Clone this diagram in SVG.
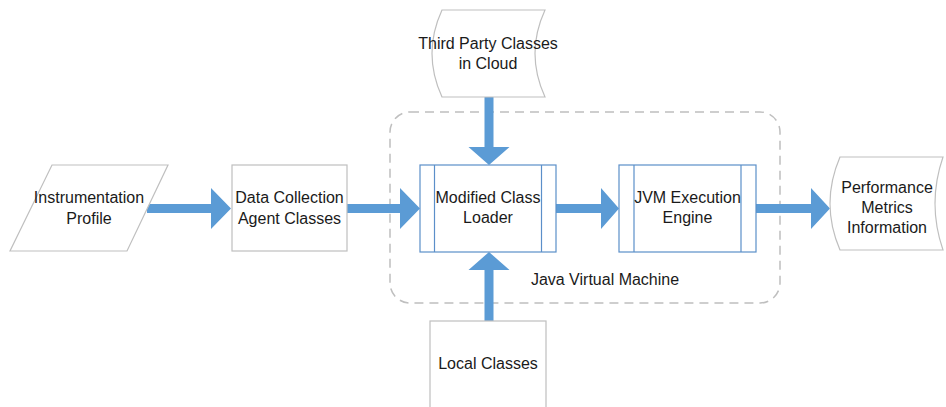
<svg xmlns="http://www.w3.org/2000/svg" width="946" height="407" viewBox="0 0 946 407">
<style>
text{font-family:"Liberation Sans",Arial,sans-serif;font-size:16px;fill:#1a1a1a;text-anchor:middle}
.g{fill:#fff;stroke:#bfbfbf;stroke-width:1.2}
.b{fill:#fff;stroke:#5b8fc9;stroke-width:1.2}
.bl{stroke:#5b8fc9;stroke-width:1.2;fill:none}
.a{fill:#5b9bd5;stroke:none}
</style>
<rect width="946" height="407" fill="#fff"/>
<g id="jvm">
<rect x="390" y="112" width="390" height="191" rx="20" fill="none" stroke="#bfbfbf" stroke-width="1.5" stroke-dasharray="9,6"/>
<text x="605" y="285">Java Virtual Machine</text>
</g>
<g id="connectors">
<polygon class="a" points="147,204 211,204 211,188 231,208.5 211,229 211,213 147,213"/>
<polygon class="a" points="347,204 400,204 400,188 420,208.5 400,229 400,213 347,213"/>
<polygon class="a" points="556,204 601,204 601,188 619,208.5 601,229 601,213 556,213"/>
<polygon class="a" points="756,204 811,204 811,188 830,208.5 811,229 811,213 756,213"/>
<polygon class="a" points="484.5,97 493.5,97 493.5,147 509.5,147 489,165 468.5,147 484.5,147"/>
<polygon class="a" points="484.5,321 493.5,321 493.5,270 509.5,270 489,252 468.5,270 484.5,270"/>
</g>
<g id="instrumentation">
<polygon class="g" points="52,165 168,165 127,251 10,251"/>
<text x="89" y="203">Instrumentation</text>
<text x="89" y="224">Profile</text>
</g>
<g id="datacollection">
<rect class="g" x="232" y="165" width="115" height="86"/>
<text x="289.5" y="203">Data Collection</text>
<text x="289.5" y="224">Agent Classes</text>
</g>
<g id="thirdparty">
<path class="g" d="M442,10 L545,10 Q525,53.5 545,97 L442,97 Q422,53.5 442,10 Z"/>
<text x="488" y="49">Third Party Classes</text>
<text x="488" y="69">in Cloud</text>
</g>
<g id="classloader">
<rect class="b" x="420" y="165" width="136" height="87"/>
<line class="bl" x1="434.5" y1="165" x2="434.5" y2="252"/>
<line class="bl" x1="541.5" y1="165" x2="541.5" y2="252"/>
<text x="488" y="203">Modified Class</text>
<text x="488" y="223">Loader</text>
</g>
<g id="engine">
<rect class="b" x="619" y="165" width="137" height="87"/>
<line class="bl" x1="634" y1="165" x2="634" y2="252"/>
<line class="bl" x1="741" y1="165" x2="741" y2="252"/>
<text x="687.5" y="203">JVM Execution</text>
<text x="687.5" y="223">Engine</text>
</g>
<g id="performance">
<path class="g" d="M840,157 L943,157 Q927,203.5 943,250 L840,250 Q820,203.5 840,157 Z"/>
<text x="887" y="193">Performance</text>
<text x="887" y="213">Metrics</text>
<text x="887" y="233">Information</text>
</g>
<g id="local">
<rect class="g" x="430" y="321" width="116" height="95"/>
<text x="488" y="369">Local Classes</text>
</g>
</svg>
